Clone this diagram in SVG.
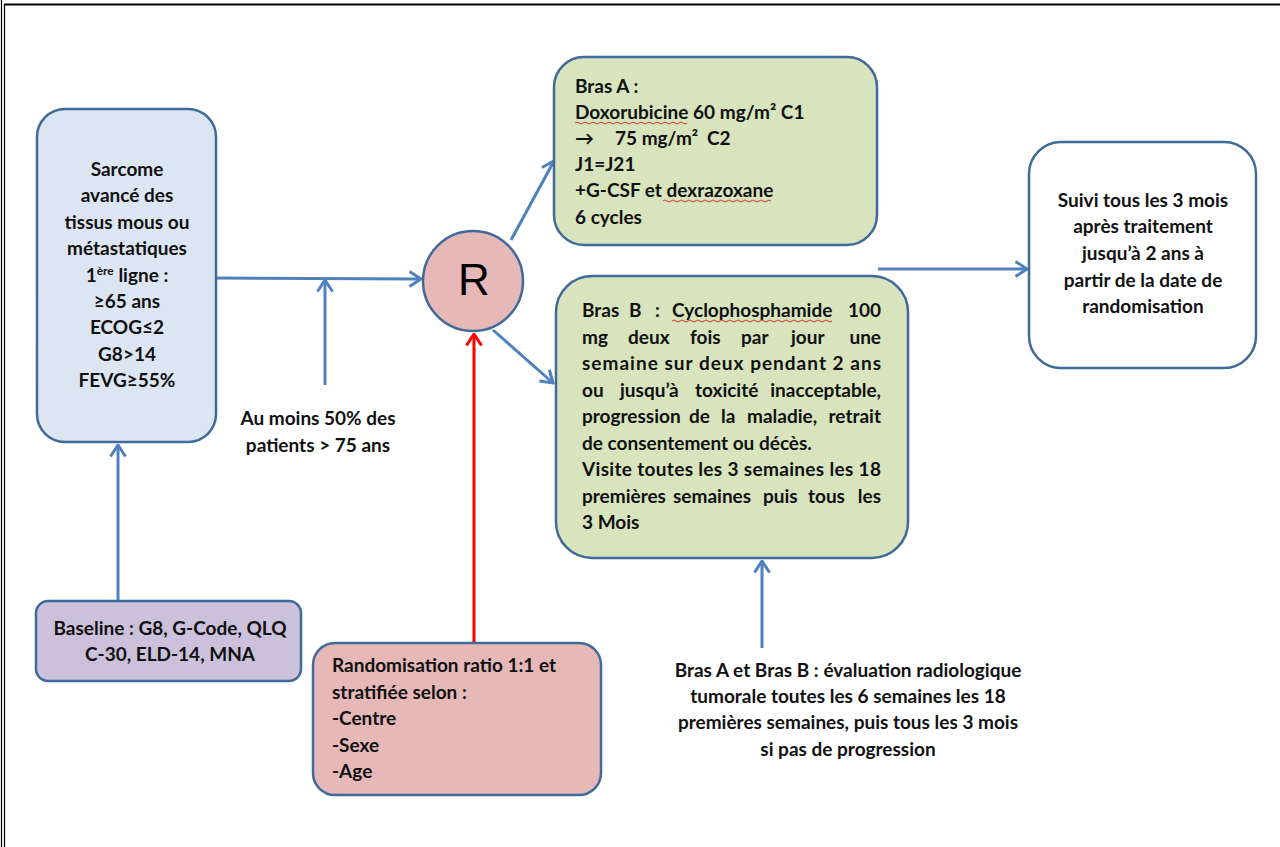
<svg xmlns="http://www.w3.org/2000/svg" width="1280" height="847" viewBox="0 0 1280 847">
<style>
  .box { stroke: #3f6a9a; stroke-width: 2.5; }
  .t { font-family: Lato, "Open Sans", "Liberation Sans", sans-serif; font-weight: 700; font-size: 19px; fill: #111; }
  .c { text-anchor: middle; }
  .con { stroke: #4f81bd; stroke-width: 3; fill: none; }
  .red { stroke: #ff0000; stroke-width: 3; fill: none; }
  .sq { stroke: #e03030; stroke-width: 1; fill: none; }
</style>
<defs>
  <marker id="ah" viewBox="0 0 14 18" refX="12.5" refY="9" markerWidth="14" markerHeight="18" markerUnits="userSpaceOnUse" orient="auto">
    <path d="M1,1.5 L12.5,9 L1,16.5" fill="none" stroke="#4f81bd" stroke-width="3"/>
  </marker>
  <marker id="ahr" viewBox="0 0 14 18" refX="12.5" refY="9" markerWidth="14" markerHeight="18" markerUnits="userSpaceOnUse" orient="auto">
    <path d="M1,1.5 L12.5,9 L1,16.5" fill="none" stroke="#ff0000" stroke-width="3"/>
  </marker>
</defs>
<rect x="0" y="0" width="1280" height="847" fill="#ffffff"/>
<g id="border" stroke="#000" fill="none">
  <line x1="1.5" y1="0" x2="1.5" y2="847" stroke-width="1.2"/>
  <line x1="4.5" y1="4" x2="4.5" y2="847" stroke-width="1.2"/>
  <line x1="4" y1="4.5" x2="1280" y2="4.5" stroke-width="2"/>
</g>

<g id="connectors">
  <line class="con" x1="118" y1="600" x2="118" y2="445" marker-end="url(#ah)"/>
  <line class="con" x1="216" y1="278" x2="421" y2="279" marker-end="url(#ah)"/>
  <line class="con" x1="325" y1="385" x2="325" y2="280" marker-end="url(#ah)"/>
  <line class="red" x1="474" y1="642" x2="474" y2="334" marker-end="url(#ahr)"/>
  <line class="con" x1="511" y1="240" x2="554" y2="161" marker-end="url(#ah)"/>
  <line class="con" x1="493" y1="330" x2="553" y2="383" marker-end="url(#ah)"/>
  <line class="con" x1="762" y1="648" x2="762" y2="561" marker-end="url(#ah)"/>
  <line class="con" x1="878" y1="269" x2="1027" y2="269" marker-end="url(#ah)"/>
</g>

<g id="sarcome">
  <rect class="box" x="37" y="109" width="179" height="333" rx="28" fill="#dce6f2"/>
  <text class="t c" x="127" y="176">Sarcome</text>
  <text class="t c" x="127" y="202">avancé des</text>
  <text class="t c" x="127" y="229">tissus mous ou</text>
  <text class="t c" x="127" y="255">métastatiques</text>
  <text class="t c" x="127" y="282">1<tspan font-size="12" dy="-7">ère</tspan><tspan dy="7"> ligne :</tspan></text>
  <text class="t c" x="127" y="308">≥65 ans</text>
  <text class="t c" x="127" y="334">ECOG≤2</text>
  <text class="t c" x="127" y="361">G8&gt;14</text>
  <text class="t c" x="127" y="387">FEVG≥55%</text>
</g>

<g id="baseline">
  <rect class="box" x="36" y="601" width="265" height="80" rx="12" fill="#ccc1da"/>
  <text class="t c" x="170" y="635">Baseline : G8, G-Code, QLQ</text>
  <text class="t c" x="170" y="661">C-30, ELD-14, MNA</text>
</g>

<g id="note50">
  <text class="t c" x="318" y="425">Au moins 50% des</text>
  <text class="t c" x="318" y="452">patients &gt; 75 ans</text>
</g>

<g id="R">
  <circle cx="473" cy="281" r="50" fill="#e6b8b7" stroke="#3f6a9a" stroke-width="2.5"/>
  <text x="474" y="295" text-anchor="middle" font-family="'Liberation Sans', Arial, sans-serif" font-size="44" fill="#000">R</text>
</g>

<g id="randomisation">
  <rect class="box" x="313" y="643" width="288" height="152" rx="22" fill="#e6b8b7"/>
  <text class="t" x="332" y="672">Randomisation ratio 1:1 et</text>
  <text class="t" x="332" y="699">stratifiée selon :</text>
  <text class="t" x="332" y="725">-Centre</text>
  <text class="t" x="332" y="752">-Sexe</text>
  <text class="t" x="332" y="778">-Age</text>
</g>

<g id="brasA">
  <rect class="box" x="554" y="57" width="323" height="188" rx="30" fill="#d7e4bd"/>
  <text class="t" x="575" y="93">Bras A :</text>
  <text class="t" x="575" y="119">Doxorubicine 60 mg/m² C1</text>
  <text class="t" y="145"><tspan x="575">→</tspan><tspan x="615">75 mg/m²</tspan><tspan x="707">C2</tspan></text>
  <text class="t" x="575" y="171">J1=J21</text>
  <text class="t" x="575" y="197">+G-CSF et dexrazoxane</text>
  <text class="t" x="575" y="224">6 cycles</text>
  <path class="sq" d="M575,123 q2,-2 4,0 t4,0 t4,0 t4,0 t4,0 t4,0 t4,0 t4,0 t4,0 t4,0 t4,0 t4,0 t4,0 t4,0 t4,0 t4,0 t4,0 t4,0 t4,0 t4,0 t4,0 t4,0 t4,0 t4,0 t4,0 t4,0 t4,0 t4,0"/>
  <path class="sq" d="M663,201 q2,-2 4,0 t4,0 t4,0 t4,0 t4,0 t4,0 t4,0 t4,0 t4,0 t4,0 t4,0 t4,0 t4,0 t4,0 t4,0 t4,0 t4,0 t4,0 t4,0 t4,0 t4,0 t4,0 t4,0 t4,0 t4,0 t4,0 t4,0"/>
</g>

<g id="brasB">
  <rect class="box" x="556" y="276" width="352" height="282" rx="36" fill="#d7e4bd"/>
  <text class="t" y="317"><tspan x="582">Bras</tspan><tspan x="629">B</tspan><tspan x="655">:</tspan><tspan x="672">Cyclophosphamide</tspan><tspan x="881" text-anchor="end">100</tspan></text>
  <text class="t" y="344"><tspan x="582">mg</tspan><tspan x="628">deux</tspan><tspan x="690">fois</tspan><tspan x="741">par</tspan><tspan x="791">jour</tspan><tspan x="881" text-anchor="end">une</tspan></text>
  <text class="t" x="582" y="370" textLength="299" lengthAdjust="spacing">semaine sur deux pendant 2 ans</text>
  <text class="t" y="397"><tspan x="582">ou</tspan><tspan x="620">jusqu’à</tspan><tspan x="695">toxicité</tspan><tspan x="881" text-anchor="end">inacceptable,</tspan></text>
  <text class="t" y="423"><tspan x="582">progression</tspan><tspan x="689">de</tspan><tspan x="721">la</tspan><tspan x="747">maladie,</tspan><tspan x="881" text-anchor="end">retrait</tspan></text>
  <text class="t" x="582" y="450">de consentement ou décès.</text>
  <text class="t" x="582" y="476" textLength="299" lengthAdjust="spacing">Visite toutes les 3 semaines les 18</text>
  <text class="t" y="503"><tspan x="582">premières</tspan><tspan x="673">semaines</tspan><tspan x="763">puis</tspan><tspan x="808">tous</tspan><tspan x="881" text-anchor="end">les</tspan></text>
  <text class="t" x="582" y="529">3 Mois</text>
  <path class="sq" d="M672,321 q2,-2 4,0 t4,0 t4,0 t4,0 t4,0 t4,0 t4,0 t4,0 t4,0 t4,0 t4,0 t4,0 t4,0 t4,0 t4,0 t4,0 t4,0 t4,0 t4,0 t4,0 t4,0 t4,0 t4,0 t4,0 t4,0 t4,0 t4,0 t4,0 t4,0 t4,0 t4,0 t4,0 t4,0 t4,0 t4,0 t4,0 t4,0 t4,0 t4,0 t4,0"/>
</g>

<g id="evaluation">
  <text class="t c" x="848" y="677">Bras A et Bras B : évaluation radiologique</text>
  <text class="t c" x="848" y="703">tumorale toutes les 6 semaines les 18</text>
  <text class="t c" x="848" y="729">premières semaines, puis tous les 3 mois</text>
  <text class="t c" x="848" y="756">si pas de progression</text>
</g>

<g id="suivi">
  <rect class="box" x="1029" y="142" width="227" height="226" rx="32" fill="#ffffff"/>
  <text class="t c" x="1143" y="207">Suivi tous les 3 mois</text>
  <text class="t c" x="1143" y="233">après traitement</text>
  <text class="t c" x="1143" y="260">jusqu’à 2 ans à</text>
  <text class="t c" x="1143" y="287">partir de la date de</text>
  <text class="t c" x="1143" y="313">randomisation</text>
</g>
</svg>
